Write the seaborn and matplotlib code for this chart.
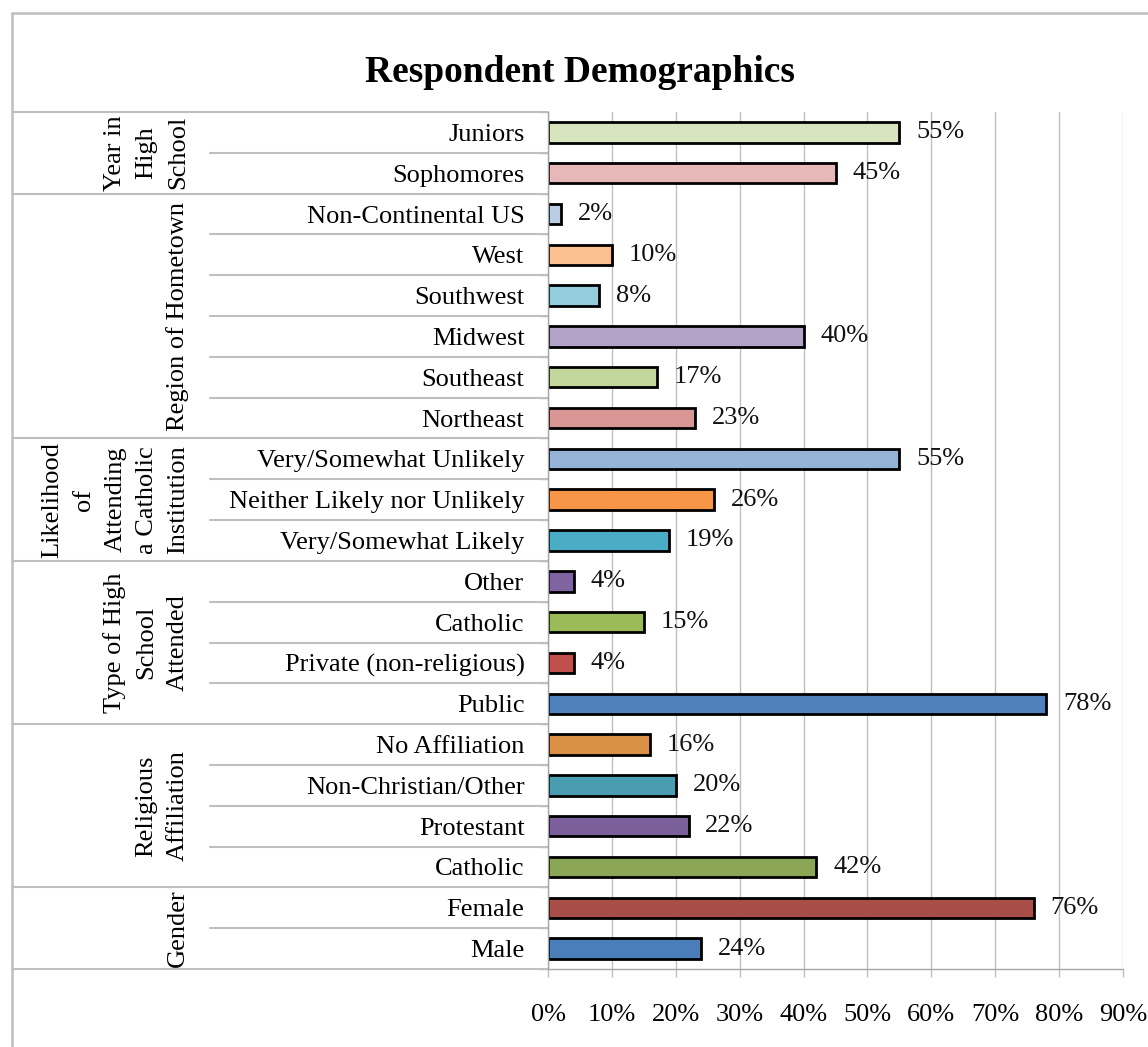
import pandas as pd
import matplotlib
matplotlib.use("Agg")
from matplotlib import pyplot as plt
from matplotlib import transforms
from matplotlib.lines import Line2D
import seaborn as sns

# chart data, top row first
groups = [
    "Year in\nHigh\nSchool",
    "Region of Hometown",
    "Likelihood\nof\nAttending\na Catholic\nInstitution",
    "Type of High\nSchool\nAttended",
    "Religious\nAffiliation",
    "Gender",
]
group_sizes = [2, 6, 3, 4, 4, 2]
categories = [
    "Juniors", "Sophomores",
    "Non-Continental US", "West", "Southwest", "Midwest", "Southeast", "Northeast",
    "Very/Somewhat Unlikely", "Neither Likely nor Unlikely", "Very/Somewhat Likely",
    "Other", "Catholic", "Private (non-religious)", "Public",
    "No Affiliation", "Non-Christian/Other", "Protestant", "Catholic",
    "Female", "Male",
]
values = [55, 45, 2, 10, 8, 40, 17, 23, 55, 26, 19, 4, 15, 4, 78, 16, 20, 22, 42, 76, 24]
bar_colors = [
    "#D7E4BD", "#E6B9B8",
    "#B9CDE5", "#FAC090", "#93CDDD", "#B3A2C7", "#C3D69B", "#D99694",
    "#95B3D7", "#F79646", "#4BACC6",
    "#8064A2", "#9BBB59", "#C0504D", "#4F81BD",
    "#DA9146", "#4A9DB0", "#7A5F9A", "#8BA655",
    "#A84E48", "#4A7EBB",
]
x_ticks = [0, 10, 20, 30, 40, 50, 60, 70, 80, 90]
title = "Respondent Demographics"

W, H = 1148, 1047
GRAY = "#BFBFBF"

sns.set_style("white")
plt.rcParams["font.family"] = ["Liberation Serif", "DejaVu Serif"]
plt.rcParams["text.color"] = "black"
plt.rcParams["xtick.labelcolor"] = "black"
plt.rcParams["ytick.labelcolor"] = "black"

# unique keys because "Catholic" shows up twice
group_of_row = [g for g, n in zip(groups, group_sizes) for _ in range(n)]
keys = [f"{i}:{c}" for i, c in enumerate(categories)]
df = pd.DataFrame({"key": keys, "label": categories, "value": values, "group": group_of_row})

fig = plt.figure(figsize=(W / 100, H / 100), dpi=100)
ax = fig.add_axes([548 / W, 1 - 969 / H, 575 / W, 857 / H])

sns.barplot(data=df, x="value", y="key", hue="key", order=keys, hue_order=keys,
            palette=dict(zip(keys, bar_colors)), width=0.5, legend=False,
            edgecolor="black", linewidth=2.0, saturation=1, ax=ax)

for cont in ax.containers:
    ax.bar_label(cont, fmt="{:.0f}%", padding=12, fontsize=19, color="#111111")

n = len(categories)
ax.set_xlim(0, 90)
ax.set_ylim(n - 0.5, -0.5)
ax.set_xticks(x_ticks)
ax.set_xticklabels([f"{t}%" for t in x_ticks])
ax.set_yticks(range(n))
ax.set_yticklabels(categories)
ax.set_yticks([i - 0.5 for i in range(n + 1)], minor=True)
ax.set_xlabel("")
ax.set_ylabel("")

ax.tick_params(axis="y", which="major", length=0, pad=17, labelsize=19)
ax.tick_params(axis="y", which="minor", length=6, width=1, color=GRAY, left=True)
ax.tick_params(axis="x", which="major", length=6, width=1, color=GRAY,
               bottom=True, pad=19, labelsize=19)
ax.grid(axis="x", color=GRAY, linewidth=1.0)
ax.set_axisbelow(True)
for side in ["top", "right"]:
    ax.spines[side].set_visible(False)
for side in ["left", "bottom"]:
    ax.spines[side].set_color("#A6A6A6")
    ax.spines[side].set_linewidth(1.0)

# category-axis separators on the left side
trans = transforms.blended_transform_factory(fig.transFigure, ax.transData)
group_edges = [-0.5]
for s in group_sizes:
    group_edges.append(group_edges[-1] + s)
for i in range(n + 1):
    yb = i - 0.5
    x0 = 12 / W if yb in group_edges else 210 / W
    ax.add_line(Line2D([x0, 548 / W], [yb, yb], transform=trans,
                       color=GRAY, linewidth=1.5, clip_on=False))

for g, top, bottom in zip(groups, group_edges[:-1], group_edges[1:]):
    ax.text(189 / W, (top + bottom) / 2, g, transform=trans, rotation=90,
            ha="right", va="center", multialignment="center", fontsize=19,
            linespacing=1.55)

# outer chart frame
fig.add_artist(Line2D([12 / W, 12 / W], [0, 1 - 13 / H], color=GRAY, linewidth=1.8))
fig.add_artist(Line2D([12 / W, 1], [1 - 13 / H, 1 - 13 / H], color=GRAY, linewidth=1.8))

fig.text(580 / W, 1 - 82 / H, title, ha="center", va="baseline",
         fontsize=27, fontweight="bold")

fig.savefig("out.png", dpi=100)
